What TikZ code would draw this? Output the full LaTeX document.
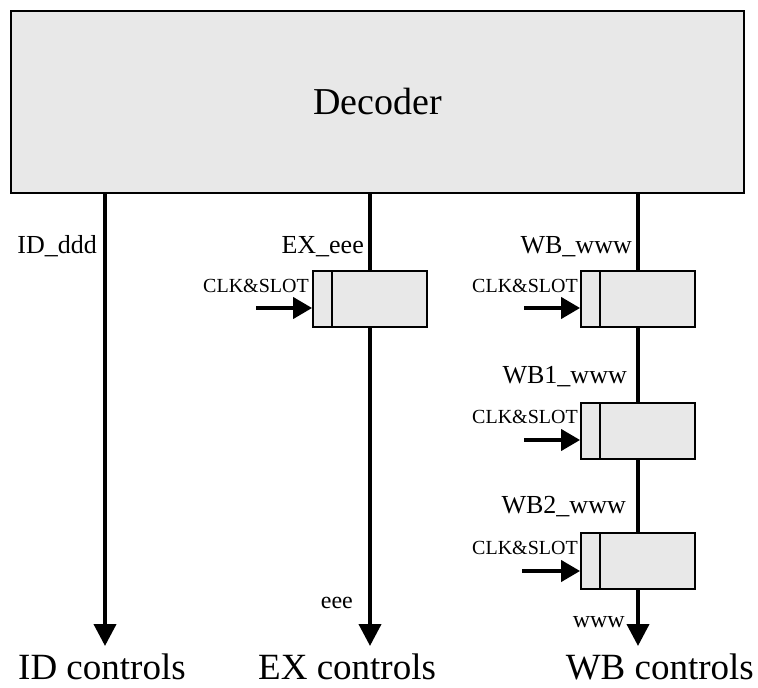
\documentclass[tikz,border=0pt]{standalone}
\usepackage{fontspec}
\setmainfont{Liberation Serif}
\usetikzlibrary{arrows.meta}
\definecolor{boxgray}{RGB}{232,232,232}
\begin{document}
\begin{tikzpicture}[x=1pt,y=-1pt,
  blk/.style={draw, line width=2.5pt, fill=boxgray, inner sep=0pt, font=\fontsize{38}{40}\selectfont},
  reg/.style={draw, line width=1.8pt, fill=boxgray, minimum width=114pt, minimum height=56pt, inner sep=0pt},
  divline/.style={line width=1.8pt},
  wire/.style={line width=4pt},
  sig/.style={line width=4pt, -{Triangle[length=22pt,width=22pt]}},
  clk/.style={line width=4pt, -{Triangle[length=19pt,width=21pt]}},
  lab/.style={font=\fontsize{26}{28}\selectfont, inner sep=0pt},
  small/.style={font=\fontsize{24}{26}\selectfont, inner sep=0pt},
  clklab/.style={font=\fontsize{20}{22}\selectfont, inner sep=0pt},
  big/.style={font=\fontsize{37}{39}\selectfont, inner sep=0pt}
]
\useasboundingbox (0,0) rectangle (758,688);

% Decoder
\node[blk, minimum width=733pt, minimum height=182pt] (dec) at (377.5,102) {Decoder};

% registers
\node[reg] (rex) at (370,299) {};
\node[reg] (rw1) at (638,299) {};
\node[reg] (rw2) at (638,431) {};
\node[reg] (rw3) at (638,561) {};
\foreach \r in {rex,rw1,rw2,rw3}{
  \draw[divline] ([xshift=20pt]\r.north west) -- ([xshift=20pt]\r.south west);
}

% end points
\coordinate (idend) at (105,646);
\coordinate (exend) at (370,646);
\coordinate (wbend) at (638,646);

% wires
\draw[sig] (dec.south -| idend) -- (idend);
\draw[wire] (dec.south -| rex.north) -- (rex.north);
\draw[sig] (rex.south) -- (exend);
\draw[wire] (dec.south -| rw1.north) -- (rw1.north);
\draw[wire] (rw1.south) -- (rw2.north);
\draw[wire] (rw2.south) -- (rw3.north);
\draw[sig] (rw3.south) -- (wbend);

% clock inputs
\coordinate (ckex) at (256,308);
\coordinate (ckw1) at (524,308);
\coordinate (ckw2) at (524,440);
\coordinate (ckw3) at (522,571);
\draw[clk] (ckex) -- (ckex -| rex.west);
\draw[clk] (ckw1) -- (ckw1 -| rw1.west);
\draw[clk] (ckw2) -- (ckw2 -| rw2.west);
\draw[clk] (ckw3) -- (ckw3 -| rw3.west);

\node[clklab, anchor=base east] (cl1) at (309,292) {CLK\&SLOT};
\node[clklab, anchor=base east] (cl2) at (578,292) {CLK\&SLOT};
\node[clklab, anchor=base east] (cl3) at (578,423) {CLK\&SLOT};
\node[clklab, anchor=base east] (cl4) at (578,554) {CLK\&SLOT};

% signal labels
\node[lab, anchor=base east] (lid) at (97,253) {ID\_ddd};
\node[lab, anchor=base east] (lex) at (364,253) {EX\_eee};
\node[lab, anchor=base east] (lwb) at (632,253) {WB\_www};
\node[lab, anchor=base east] (lwb1) at (627,383) {WB1\_www};
\node[lab, anchor=base east] (lwb2) at (626,513) {WB2\_www};
\node[small, anchor=base east] (leee) at (353,608) {eee};
\node[small, anchor=base east] (lwww) at (625,627) {www};

% outputs
\node[big, anchor=base west] (oid) at (18,679) {ID controls};
\node[big, anchor=base west] (oex) at (258,679) {EX controls};
\node[big, anchor=base east] (owb) at (754,679) {WB controls};
\end{tikzpicture}
\end{document}
